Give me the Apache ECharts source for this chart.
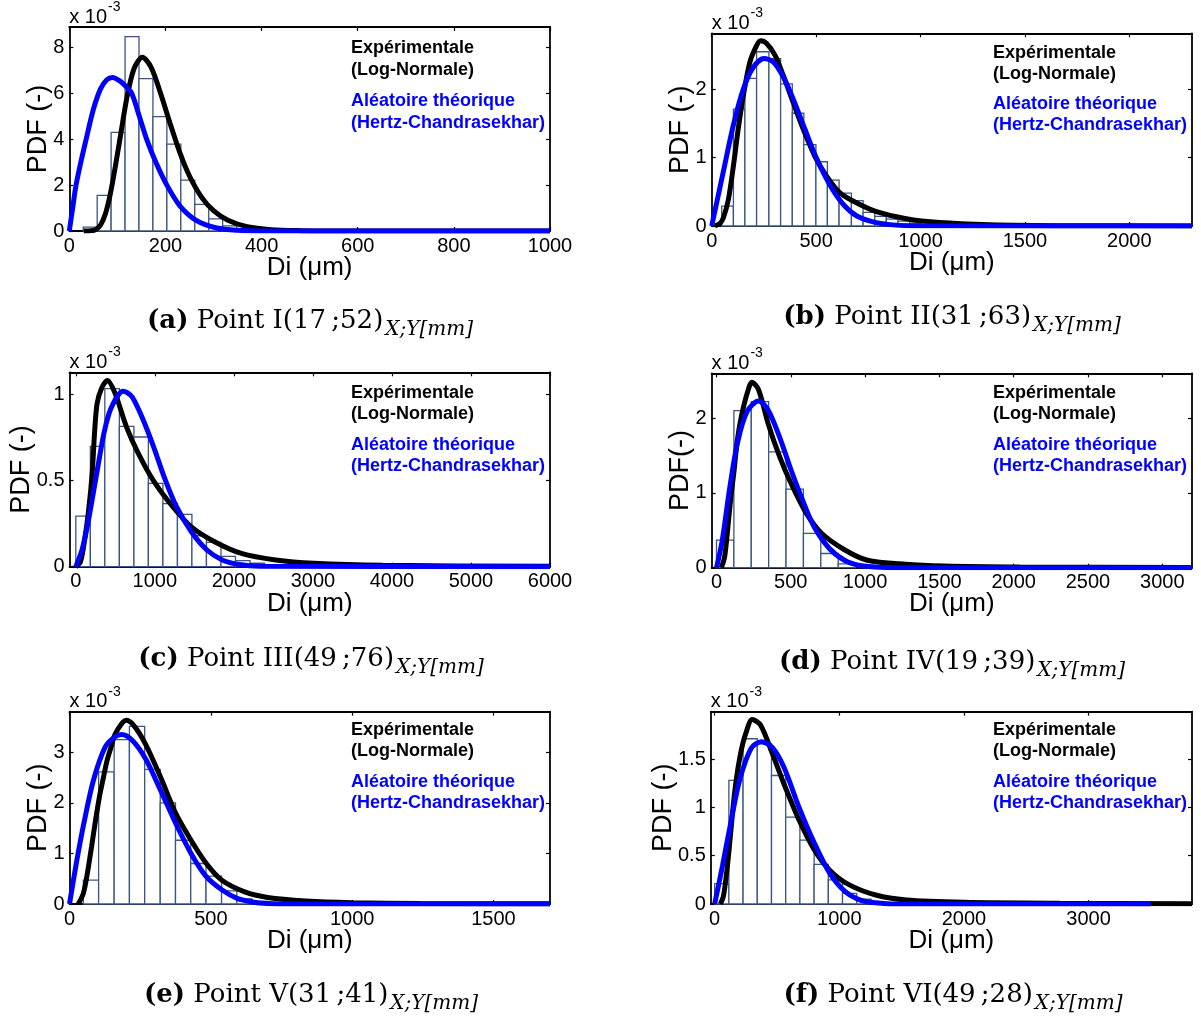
<!DOCTYPE html>
<html><head><meta charset="utf-8">
<script src="https://cdn.jsdelivr.net/npm/echarts@6/dist/echarts.min.js"></script>
<style>html,body{margin:0;padding:0;background:#fff}#c{width:1201px;height:1017px}</style>
</head><body><div id="c"></div>
<script>
// ---------- DATA (PDF in units of 1e-3) ----------
// (a) Point I
const aBinEdges   = [29, 58, 87, 116, 145, 174, 203, 232, 261, 290, 319, 348, 377, 406];
const aBinHeights = [0.17, 1.55, 4.3, 8.48, 6.65, 4.99, 3.79, 2.22, 1.16, 0.53, 0.22, 0.1, 0.05];
const aBlack = [[30,0],[45,0.01],[55,0.06],[65,0.26],[75,0.74],[85,1.58],[95,2.72],[106,4.1],[120,5.84],[135,7.1],[152,7.58],[170,7.15],[190,6.0],[210,4.67],[230,3.42],[250,2.4],[275,1.48],[300,0.89],[330,0.47],[370,0.19],[420,0.06],[480,0.016],[550,0.004],[700,0],[1000,0]];
const aBlue  = [[0,0],[7,1.0],[14,2.0],[25,3.1],[35,4.0],[50,5.3],[65,6.2],[78,6.6],[90,6.7],[105,6.55],[118,6.3],[130,6.0],[145,5.05],[161,4.0],[180,3.0],[203,2.0],[230,1.1],[265,0.45],[307,0.13],[350,0.03],[400,0.005],[1000,0]];
const aXTicks = [0, 200, 400, 600, 800, 1000];
const aYTicks = [0, 2, 4, 6, 8];

// (b) Point II
const bBinEdges   = [48, 104, 159, 215, 274, 330, 386, 441, 499, 554, 610, 669, 725, 781, 836, 892, 948, 1004];
const bBinHeights = [0.29, 1.71, 2.16, 2.55, 2.45, 2.08, 1.65, 1.19, 0.94, 0.67, 0.48, 0.37, 0.2, 0.14, 0.1, 0.07, 0.04];
const bBlack = [[16,0],[40,0.04],[56,0.12],[80,0.39],[104,0.88],[127,1.42],[151,1.9],[183,2.4],[215,2.64],[234,2.71],[263,2.67],[303,2.5],[343,2.2],[390,1.81],[438,1.42],[494,1.02],[550,0.73],[613,0.49],[693,0.34],[789,0.21],[932,0.105],[1091,0.05],[1330,0.02],[1700,0.005],[2300,0.001]];
const bBlue  = [[0,0],[56,0.8],[104,1.48],[151,2.0],[199,2.32],[250,2.45],[295,2.4],[343,2.18],[390,1.86],[446,1.42],[502,0.99],[566,0.6],[629,0.32],[693,0.15],[773,0.06],[852,0.02],[950,0.005],[2300,0]];
const bXTicks = [0, 500, 1000, 1500, 2000];
const bYTicks = [0, 1, 2];

// (c) Point III
const cBinEdges   = [0, 184, 367, 551, 735, 918, 1102, 1286, 1469, 1653, 1837, 2020, 2204, 2388];
const cBinHeights = [0.294, 0.70, 1.035, 0.816, 0.754, 0.484, 0.367, 0.304, 0.18, 0.141, 0.06, 0.035, 0.02];
const cBlack = [[0,0],[60,0.03],[111,0.155],[160,0.32],[208,0.55],[240,0.8],[270,0.95],[329,1.04],[401,1.083],[498,1.006],[643,0.81],[789,0.66],[982,0.5],[1224,0.35],[1466,0.23],[1756,0.145],[2095,0.077],[2530,0.039],[3014,0.02],[3885,0.008],[6000,0.002]];
const cBlue  = [[0,0],[80,0.1],[160,0.27],[256,0.52],[353,0.77],[420,0.89],[474,0.95],[540,1.0],[595,1.02],[650,1.012],[716,0.985],[837,0.87],[982,0.70],[1127,0.51],[1272,0.35],[1466,0.20],[1659,0.097],[1853,0.039],[2046,0.014],[2337,0.002],[6000,0]];
const cXTicks = [0, 1000, 2000, 3000, 4000, 5000, 6000];
const cYTicks = [0, 0.5, 1];

// (d) Point IV
const dBinEdges   = [0, 117, 234, 351, 468, 585, 702, 819, 936];
const dBinHeights = [0.37, 2.1, 2.22, 1.55, 1.05, 0.46, 0.19, 0.05];
const dBlack = [[33,0],[55,0.15],[77,0.55],[97,0.95],[116,1.26],[140,1.7],[167,2.02],[206,2.33],[239,2.48],[283,2.38],[347,1.93],[424,1.49],[501,1.13],[604,0.73],[707,0.46],[861,0.24],[1015,0.10],[1272,0.045],[1530,0.022],[2044,0.009],[3200,0.002]];
const dBlue  = [[0,0],[39,0.37],[90,1.08],[141,1.67],[206,2.09],[283,2.23],[347,2.11],[424,1.75],[501,1.31],[578,0.91],[656,0.55],[758,0.26],[861,0.10],[964,0.03],[1067,0.01],[1200,0],[3200,0]];
const dXTicks = [0, 500, 1000, 1500, 2000, 2500, 3000];
const dYTicks = [0, 1, 2];

// (e) Point V
const eBinEdges   = [49, 103, 158, 212, 266, 321, 375, 429, 483, 538, 592, 646, 701];
const eBinHeights = [0.47, 2.61, 3.25, 3.51, 2.66, 2.0, 1.26, 0.80, 0.55, 0.26, 0.1, 0.05];
const eBlack = [[31,0],[49,0.21],[63,0.6],[78,1.13],[92,1.65],[106,2.12],[120,2.5],[133,2.84],[147,3.1],[160,3.34],[187,3.58],[200,3.63],[227,3.53],[268,3.17],[322,2.51],[376,1.79],[430,1.26],[484,0.80],[539,0.47],[620,0.24],[701,0.13],[836,0.06],[999,0.026],[1242,0.01],[1700,0.003]];
const eBlue  = [[0,0],[24,0.8],[51,1.6],[85,2.45],[126,3.1],[160,3.3],[184,3.35],[221,3.24],[268,2.88],[322,2.25],[376,1.59],[430,1.0],[484,0.54],[539,0.28],[593,0.11],[647,0.04],[701,0.01],[800,0],[1700,0]];
const eXTicks = [0, 500, 1000, 1500];
const eYTicks = [0, 1, 2, 3];

// (f) Point VI
const fBinEdges   = [0, 114, 228, 342, 456, 570, 684, 798, 912, 1026, 1140, 1254];
const fBinHeights = [0.21, 1.28, 1.71, 1.66, 1.33, 0.90, 0.66, 0.41, 0.25, 0.11, 0.05];
const fBlack = [[46,0],[70,0.08],[92,0.28],[115,0.55],[138,0.87],[160,1.15],[185,1.39],[215,1.6],[246,1.75],[302,1.91],[369,1.85],[462,1.56],[554,1.25],[677,0.87],[800,0.56],[923,0.35],[1077,0.20],[1292,0.093],[1538,0.041],[2000,0.017],[2769,0.007],[3830,0.003]];
const fBlue  = [[0,0],[62,0.39],[123,0.8],[200,1.28],[292,1.61],[375,1.68],[462,1.62],[554,1.42],[677,1.0],[800,0.63],[923,0.32],[1046,0.13],[1169,0.04],[1292,0.014],[1450,0],[3500,0]];
const fXTicks = [0, 1000, 2000, 3000];
const fYTicks = [0, 0.5, 1, 1.5];

// text
const captionLetters = ['(a)', '(b)', '(c)', '(d)', '(e)', '(f)'];
const captionPoints  = ['Point I(17\u2009;52)', 'Point II(31\u2009;63)', 'Point III(49\u2009;76)', 'Point IV(19\u2009;39)', 'Point V(31\u2009;41)', 'Point VI(49\u2009;28)'];
const captionSub = 'X;Y[mm]';
const yTitles = ['PDF (-)', 'PDF (-)', 'PDF (-)', 'PDF(-)', 'PDF (-)', 'PDF (-)'];
const xTitle = 'Di (\u03bcm)';
const legendLines = ['Exp\u00e9rimentale', '(Log-Normale)', 'Al\u00e9atoire th\u00e9orique', '(Hertz-Chandrasekhar)'];

// ---------- LAYOUT ----------
const panels = [
  {edges:aBinEdges, heights:aBinHeights, black:aBlack, blue:aBlue, xt:aXTicks, yt:aYTicks, xMin:0, xMax:1000, yMax:8.9,
   g:{l:69.3,t:27,w:480.7,h:204}, xTy:268, yTx:39, lgx:351, lgy:[48,70,101,123], cap:[310,321]},
  {edges:bBinEdges, heights:bBinHeights, black:bBlack, blue:bBlue, xt:bXTicks, yt:bYTicks, xMin:0, xMax:2300, yMax:2.82,
   g:{l:711.7,t:33.3,w:480.3,h:192.7}, xTy:263, yTx:681, lgx:993, lgy:[53,74,104,125], cap:[952,317]},
  {edges:cBinEdges, heights:cBinHeights, black:cBlack, blue:cBlue, xt:cXTicks, yt:cYTicks, xMin:-80, xMax:6000, yMax:1.13,
   g:{l:69.5,t:372.3,w:480.5,h:194.4}, xTy:604, yTx:22, lgx:351, lgy:[393,414,445,466], cap:[311,659]},
  {edges:dBinEdges, heights:dBinHeights, black:dBlack, blue:dBlue, xt:dXTicks, yt:dYTicks, xMin:-33, xMax:3200, yMax:2.6,
   g:{l:711.6,t:373.3,w:480.4,h:194.4}, xTy:604, yTx:681, lgx:993, lgy:[393,414,445,466], cap:[952,662]},
  {edges:eBinEdges, heights:eBinHeights, black:eBlack, blue:eBlue, xt:eXTicks, yt:eYTicks, xMin:0, xMax:1700, yMax:3.8,
   g:{l:69.5,t:711.7,w:480.5,h:192.3}, xTy:941, yTx:39, lgx:351, lgy:[730,751,782,803], cap:[311,995]},
  {edges:fBinEdges, heights:fBinHeights, black:fBlack, blue:fBlue, xt:fXTicks, yt:fYTicks, xMin:-31, xMax:3830, yMax:1.99,
   g:{l:710.8,t:711.7,w:481.2,h:192.3}, xTy:941, yTx:664, lgx:993, lgy:[730,751,782,803], cap:[953,995]}
];

const SANS = 'Liberation Sans, Arial, Helvetica, sans-serif';
const SERIF = 'DejaVu Serif, serif';
const barStroke = '#3a5682';

const mctx = document.createElement('canvas').getContext('2d');
function tw(font, s){ mctx.font = font; return mctx.measureText(s).width; }

const grids = [], xAxes = [], yAxes = [], series = [], graphics = [];

panels.forEach((p, i) => {
  grids.push({left:p.g.l, top:p.g.t, width:p.g.w, height:p.g.h, containLabel:false, show:false});
  const axLine = {show:true, onZero:false, lineStyle:{color:'#000', width:1.8}};
  const tick = (vals) => ({show:true, inside:true, length:4, customValues:vals, lineStyle:{color:'#000', width:1.2}});
  xAxes.push({type:'value', gridIndex:i, position:'bottom', min:p.xMin, max:p.xMax, axisLine:axLine,
    axisTick:tick(p.xt), splitLine:{show:false},
    axisLabel:{customValues:p.xt, margin:5, color:'#000', fontFamily:SANS, fontSize:20, formatter:(v)=>String(v)}});
  xAxes.push({type:'value', gridIndex:i, position:'top', min:p.xMin, max:p.xMax, axisLine:axLine,
    axisTick:tick(p.xt), splitLine:{show:false}, axisLabel:{show:false}});
  yAxes.push({type:'value', gridIndex:i, position:'left', min:0, max:p.yMax, axisLine:axLine,
    axisTick:tick(p.yt), splitLine:{show:false},
    axisLabel:{customValues:p.yt, margin:5, color:'#000', fontFamily:SANS, fontSize:20, formatter:(v)=>String(v)}});
  yAxes.push({type:'value', gridIndex:i, position:'right', min:0, max:p.yMax, axisLine:axLine,
    axisTick:tick(p.yt), splitLine:{show:false}, axisLabel:{show:false}});

  const bins = p.heights.map((h, k) => [p.edges[k], p.edges[k+1], h]);
  series.push({type:'custom', xAxisIndex:2*i, yAxisIndex:2*i, data:bins, encode:{x:[0,1], y:2}, z:1, silent:true,
    renderItem:function(params, api){
      const p0 = api.coord([api.value(0), 0]);
      const p1 = api.coord([api.value(1), api.value(2)]);
      return {type:'rect', shape:{x:p0[0], y:p1[1], width:p1[0]-p0[0], height:p0[1]-p1[1]},
        style:{fill:'#fff', stroke:barStroke, lineWidth:1.3}};
    }});
  series.push({type:'line', xAxisIndex:2*i, yAxisIndex:2*i, data:p.black, showSymbol:false, smooth:0.3, z:3, silent:true,
    lineStyle:{color:'#000', width:5}});
  series.push({type:'line', xAxisIndex:2*i, yAxisIndex:2*i, data:p.blue, showSymbol:false, smooth:0.3, z:4, silent:true,
    lineStyle:{color:'#0000ff', width:5}});

  // "x 10^-3"
  const f1 = '20px ' + SANS;
  const w1 = tw(f1, 'x 10');
  graphics.push({type:'text', x:p.g.l, y:p.g.t - 10, style:{text:'x 10', font:f1, fill:'#000', textAlign:'left', textVerticalAlign:'middle'}});
  graphics.push({type:'text', x:p.g.l + w1 + 1, y:p.g.t - 20, style:{text:'-3', font:'14px ' + SANS, fill:'#000', textAlign:'left', textVerticalAlign:'middle'}});
  // axis titles
  graphics.push({type:'text', x:p.g.l + p.g.w/2, y:p.xTy, style:{text:xTitle, font:'26px ' + SANS, fill:'#000', textAlign:'center', textVerticalAlign:'middle'}});
  graphics.push({type:'text', x:p.yTx, y:p.g.t + p.g.h/2, rotation:Math.PI/2, style:{text:yTitles[i], font:'27px ' + SANS, fill:'#000', textAlign:'center', textVerticalAlign:'middle'}});
  // legend text
  legendLines.forEach((s, k) => {
    graphics.push({type:'text', x:p.lgx, y:p.lgy[k], style:{text:s, font:'bold 18px ' + SANS, fill: k < 2 ? '#000' : '#0000ff', textAlign:'left', textVerticalAlign:'middle'}});
  });
  // caption
  const fb = 'bold 26px ' + SERIF, fn = '26px ' + SERIF, fs = 'italic 20px ' + SERIF;
  const t1 = captionLetters[i], t2 = ' ' + captionPoints[i];
  const wa = tw(fb, t1), wb = tw(fn, t2), wc = tw(fs, captionSub);
  const x0 = p.cap[0] - (wa + wb + wc + 2)/2;
  graphics.push({type:'text', x:x0, y:p.cap[1], style:{text:t1, font:fb, fill:'#000', textAlign:'left', textVerticalAlign:'middle'}});
  graphics.push({type:'text', x:x0 + wa, y:p.cap[1], style:{text:t2, font:fn, fill:'#000', textAlign:'left', textVerticalAlign:'middle'}});
  graphics.push({type:'text', x:x0 + wa + wb + 2, y:p.cap[1] + 9, style:{text:captionSub, font:fs, fill:'#000', textAlign:'left', textVerticalAlign:'middle'}});
});

const chart = echarts.init(document.getElementById('c'), null, {renderer:'canvas'});
chart.setOption({
  backgroundColor:'#fff',
  animation:false,
  grid:grids, xAxis:xAxes, yAxis:yAxes, series:series,
  graphic:{elements:graphics}
});
</script></body></html>
